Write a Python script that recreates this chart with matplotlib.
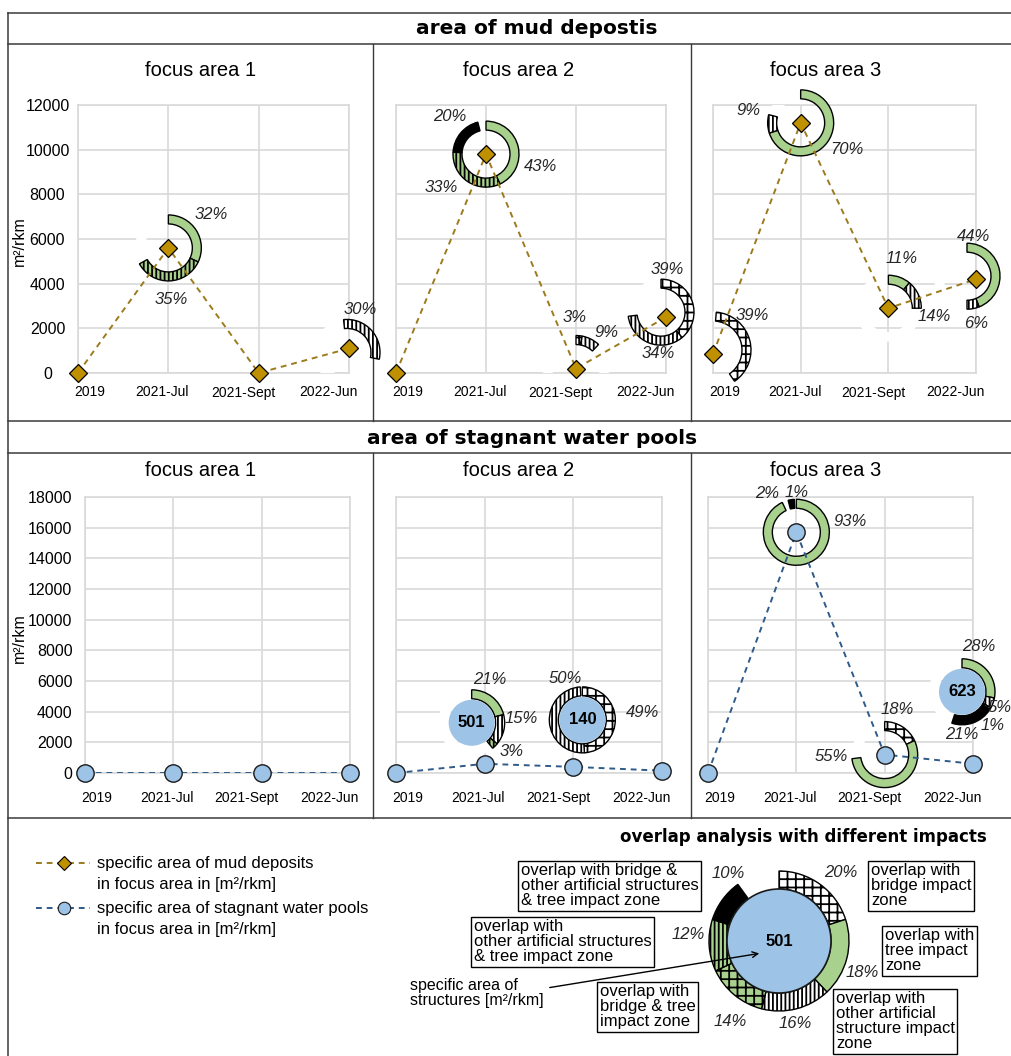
import numpy as np
import matplotlib
matplotlib.use("Agg")
import matplotlib.pyplot as plt
from matplotlib import font_manager
from matplotlib.patches import Wedge, Circle
from matplotlib.lines import Line2D
from matplotlib.transforms import Affine2D, ScaledTranslation

plt.rcParams['font.family'] = ['Liberation Sans', 'DejaVu Sans']
plt.rcParams['hatch.linewidth'] = 1.3

W, H, DPI = 1012, 1056, 100

# ---- data -------------------------------------------------------------
dates = ["2019", "2021-Jul", "2021-Sept", "2022-Jun"]
areas = ["focus area 1", "focus area 2", "focus area 3"]

mud_fa1 = [0, 5600, 0, 1100]
mud_fa2 = [0, 9800, 200, 2500]
mud_fa3 = [850, 11200, 2900, 4200]

pool_fa1 = [0, 0, 0, 0]
pool_fa2 = [0, 600, 400, 150]
pool_fa3 = [0, 15700, 1200, 600]

# overlap shares in %, clockwise from 12 o'clock, keyed by (focus area, date)
# None = share not shown
mud_rings = {
    (0, 1): [("tree", 32), ("other_tree", 35)],
    (0, 3): [("other", 30)],
    (1, 1): [("tree", 43), ("other_tree", 33), ("all", 20)],
    (1, 2): [("bridge", 3), ("other", 9)],
    (1, 3): [("bridge", 39), ("other", 34)],
    (2, 0): [("bridge", 39)],
    (2, 1): [("tree", 70), ("other", 9)],
    (2, 2): [("tree", 11), ("other", 14)],
    (2, 3): [("tree", 44), ("other", 6)],
}
pool_rings = {
    (1, 1): [("tree", 21), ("other", 15), ("other_tree", 3)],
    (1, 2): [("bridge", 49), ("other", 50)],
    (2, 1): [("tree", 93), (None, 3), ("all", 2), ("other", 1)],
    (2, 2): [("bridge", 18), ("tree", 55)],
    (2, 3): [("tree", 28), ("other", 5), ("bridge_tree", 1), ("all", 21)],
}
# specific area of structures [m²/rkm]
structure_area = {(1, 1): 501, (1, 2): 140, (2, 3): 623}

overlap_example = [("bridge", 20), ("tree", 18), ("other", 16),
                   ("bridge_tree", 14), ("other_tree", 12), ("all", 10)]
overlap_area = 501

# ---- layout of the rings: label (clock angle, distance px), centre shift px
mud_layout = {
    (0, 1): dict(labels=[(52, 54), (177, 52)]),
    (0, 3): dict(labels=[(17, 45)], start=-6, shift=(-2, -4)),
    (1, 1): dict(labels=[(103, 56), (233, 56), (316, 52)]),
    (1, 2): dict(labels=[(358, 51), (40, 47)]),
    (1, 3): dict(labels=[(8, 43), (184, 41)], shift=(-5, 5)),
    (2, 0): dict(labels=[(49, 52)], shift=(0, 4), start=5, r=38),
    (2, 1): dict(labels=[(120, 53), (283, 54)]),
    (2, 2): dict(labels=[(15, 52), (100, 47)]),
    (2, 3): dict(labels=[(9, 40), (169, 48)], shift=(-9, 3)),
}
pool_layout = {
    (1, 1): dict(labels=[(23, 47), (85, 50), (126, 49)], shift=(-13, 41)),
    (1, 2): dict(labels=[(83, 61), (338, 45)], shift=(9, 47)),
    (2, 1): dict(labels=[(79, 55), (323, 48), (1, 40)]),
    (2, 2): dict(labels=[(15, 47), (268, 53)]),
    (2, 3): dict(labels=[(20, 48), (112, 41), (138, 45), (180, 43)], shift=(-11, 72)),
}
overlap_labels = [(42, 92), (111, 89), (169, 84), (211, 94), (274, 91), (323, 85)]

# ---- styles -------------------------------------------------------------
GREEN = "#a9d18e"
BLUE = "#9dc3e6"
MUD = "#9c7b1c"
MUD_FACE = "#bf9000"
POOL = "#2f5b8a"
GRID = "#d9d9d9"
FRAME = "#3a3a3a"
TXT = "#262626"

seg_style = {
    "bridge": dict(facecolor="white", hatch="++"),
    "tree": dict(facecolor=GREEN),
    "other": dict(facecolor="white", hatch="||||"),
    "bridge_tree": dict(facecolor=GREEN, hatch="++"),
    "other_tree": dict(facecolor=GREEN, hatch="||||"),
    "all": dict(facecolor="black"),
}

names = {f.name for f in font_manager.fontManager.ttflist}
if "Liberation Sans Narrow" in names:
    xfont = dict(fontfamily="Liberation Sans Narrow", fontsize=11.5)
else:
    xfont = dict(fontfamily="Liberation Sans", fontsize=10)

fig = plt.figure(figsize=(W / DPI, H / DPI), dpi=DPI)

# background axes in pixel units for frame, headers and legend
bg = fig.add_axes([0, 0, 1, 1])
bg.set_xlim(0, W)
bg.set_ylim(H, 0)
bg.axis("off")


def ring(ax, x, y, segs, labels, shift=(0, 0), start=0, r=33, w=9,
         bubble=None, bubble_r=23, bubble_edge="none", fs=12):
    tr = Affine2D().scale(fig.dpi / DPI) + ScaledTranslation(x, y, ax.transData)
    cx, cy = shift
    a = start
    shown = []
    blanks = []
    for cat, pct in segs:
        a1 = a + pct * 3.6
        if cat is None:
            blanks.append((a, a1))
        else:
            ax.add_patch(Wedge((cx, cy), r, 90 - a1, 90 - a, width=w, transform=tr,
                               edgecolor="black", lw=1.0, clip_on=False, zorder=3,
                               **seg_style[cat]))
            shown.append(pct)
        a = a1
    if a < start + 359.5:
        blanks.append((a, start + 360))
    # unshown shares stay as a white ring inside the plot area
    for b0, b1 in blanks:
        ax.add_patch(Wedge((cx, cy), r, 90 - b1, 90 - b0, width=w, transform=tr,
                           facecolor="white", edgecolor="white", lw=0.5,
                           zorder=2.9))
    for pct, (ang, dist) in zip(shown, labels):
        t = np.deg2rad(ang)
        ax.text(cx + dist * np.sin(t), cy + dist * np.cos(t), f"{pct}%",
                transform=tr, ha="center", va="center", style="italic",
                fontsize=fs, color=TXT, clip_on=False, zorder=6)
    if bubble is not None:
        ax.add_patch(Circle((cx, cy), bubble_r, transform=tr, facecolor=BLUE,
                            edgecolor=bubble_edge, lw=1.2, clip_on=False, zorder=3.2))
        ax.text(cx, cy, str(bubble), transform=tr, ha="center", va="center",
                fontsize=12, fontweight="bold", color="black", zorder=6)


# ---- frame lines ---------------------------------------------------------
for yy in [13, 44, 421, 453, 818]:
    bg.plot([8, W], [yy, yy], color=FRAME, lw=1.1)
bg.plot([8, 8], [13, H], color=FRAME, lw=1.1)
for xx in [373, 691]:
    bg.plot([xx, xx], [44, 421], color=FRAME, lw=1.0)
    bg.plot([xx, xx], [453, 818], color=FRAME, lw=1.0)

bg.text(537, 29, "area of mud depostis", ha="center", va="center",
        fontsize=14.5, fontweight="bold", family="DejaVu Sans")
bg.text(532, 438, "area of stagnant water pools", ha="center", va="center",
        fontsize=14.5, fontweight="bold", family="DejaVu Sans")

title_x = [201, 519, 826]
for tx, name in zip(title_x, areas):
    bg.text(tx, 70, name, ha="center", va="center", fontsize=14.5)
    bg.text(tx, 470, name, ha="center", va="center", fontsize=14.5)

bg.text(19, 241, "m²/rkm", rotation=90, ha="center", va="center", fontsize=11.5)
bg.text(19, 638, "m²/rkm", rotation=90, ha="center", va="center", fontsize=11.5)


def px_axes(x0, x1, y0, y1):
    return fig.add_axes([x0 / W, 1 - y1 / H, (x1 - x0) / W, (y1 - y0) / H])


xlab_pos = [0.13, 0.93, 1.83, 2.77]


def setup(ax, ymax, first, ypad, xpad, yha):
    ax.set_facecolor("none")
    ax.set_xlim(0, 3)
    ax.set_ylim(0, ymax)
    ax.set_xticks(xlab_pos)
    ax.set_xticklabels(dates, **xfont)
    ax.set_xticks(range(4), minor=True)
    ax.set_yticks(range(0, ymax + 1, 2000))
    ax.grid(which="minor", axis="x", color=GRID, lw=1.2)
    ax.grid(which="major", axis="y", color=GRID, lw=1.2)
    ax.grid(which="major", axis="x", visible=False)
    ax.tick_params(which="both", length=0)
    ax.tick_params(axis="x", pad=xpad, colors="black")
    for s in ax.spines.values():
        s.set_color(GRID)
        s.set_linewidth(1.2)
    if first:
        ax.tick_params(axis="y", pad=ypad, labelsize=11.5)
        for lbl in ax.get_yticklabels():
            lbl.set_horizontalalignment(yha)
    else:
        ax.set_yticklabels([])
    ax.set_axisbelow(True)


# ---- mud deposits ---------------------------------------------------------
top_cols = [(78, 349), (396, 666), (713, 976)]
mud_series = [mud_fa1, mud_fa2, mud_fa3]
for i, ((x0, x1), vals) in enumerate(zip(top_cols, mud_series)):
    ax = px_axes(x0, x1, 105, 373)
    setup(ax, 12000, i == 0, 22, 9, "center")
    ax.plot(range(4), vals, ls=(0, (3, 2.5)), color=MUD, lw=1.4, zorder=3.5)
    ax.plot(range(4), vals, ls="none", marker="D", ms=9.5, mfc=MUD_FACE,
            mec="black", mew=0.9, zorder=5, clip_on=False)
    for (fa, d), segs in mud_rings.items():
        if fa == i:
            ring(ax, d, vals[d], segs, **mud_layout[(fa, d)])

# ---- stagnant water pools ------------------------------------------------
bot_cols = [(85, 350), (396, 662), (708, 973)]
pool_series = [pool_fa1, pool_fa2, pool_fa3]
for i, ((x0, x1), vals) in enumerate(zip(bot_cols, pool_series)):
    ax = px_axes(x0, x1, 497, 773)
    setup(ax, 18000, i == 0, 9, 13, "right")
    ax.plot(range(4), vals, ls=(0, (3, 2.5)), color=POOL, lw=1.4, zorder=3.5)
    ax.plot(range(4), vals, ls="none", marker="o", ms=12.5, mfc=BLUE,
            mec="#1a1a1a", mew=1.0, zorder=5, clip_on=False)
    for (fa, d), segs in pool_rings.items():
        if fa == i:
            ring(ax, d, vals[d], segs, bubble=structure_area.get((fa, d)),
                 r=33, w=9, **pool_layout[(fa, d)])

# ---- legend ------------------------------------------------------------------
bg.add_line(Line2D([36, 64, 90], [863, 863, 863], ls=(0, (3, 2.5)), color=MUD,
                   lw=1.4, marker="D", markevery=[1], ms=7, mfc=MUD_FACE,
                   mec="black", mew=0.8))
bg.add_line(Line2D([36, 64, 90], [908, 908, 908], ls=(0, (3, 2.5)), color=POOL,
                   lw=1.4, marker="o", markevery=[1], ms=9, mfc=BLUE,
                   mec="#1a1a1a", mew=0.8))
bg.text(97, 874, "specific area of mud deposits\nin focus area in [m²/rkm]",
        ha="left", va="center", fontsize=12, linespacing=1.45)
bg.text(97, 919, "specific area of stagnant water pools\nin focus area in [m²/rkm]",
        ha="left", va="center", fontsize=12, linespacing=1.45)

bg.text(987, 837, "overlap analysis with different impacts", ha="right",
        va="center", fontsize=12, fontweight="bold", family="DejaVu Sans")

ring(bg, 779, 941, overlap_example, overlap_labels, r=70, w=18,
     bubble=overlap_area, bubble_r=52, bubble_edge="#1a1a1a")

boxes = [
    (521, 863, "overlap with bridge &\nother artificial structures\n& tree impact zone"),
    (474, 919, "overlap with\nother artificial structures\n& tree impact zone"),
    (600, 984, "overlap with\nbridge & tree\nimpact zone"),
    (871, 863, "overlap with\nbridge impact\nzone"),
    (885, 928, "overlap with\ntree impact\nzone"),
    (836, 991, "overlap with\nother artificial\nstructure impact\nzone"),
]
for bx, by, txt in boxes:
    bg.text(bx, by, txt, ha="left", va="top", fontsize=12, linespacing=1.0,
            zorder=4, bbox=dict(boxstyle="square,pad=0.15", facecolor="white",
                                edgecolor="black", lw=1.0))

bg.text(410, 993, "specific area of\nstructures [m²/rkm]", ha="left",
        va="center", fontsize=11.5, linespacing=0.95)
bg.annotate("", xy=(762, 953), xytext=(547, 988),
            arrowprops=dict(arrowstyle="->", color="black", lw=1.0), zorder=7)

fig.savefig("out.png", dpi=DPI)
